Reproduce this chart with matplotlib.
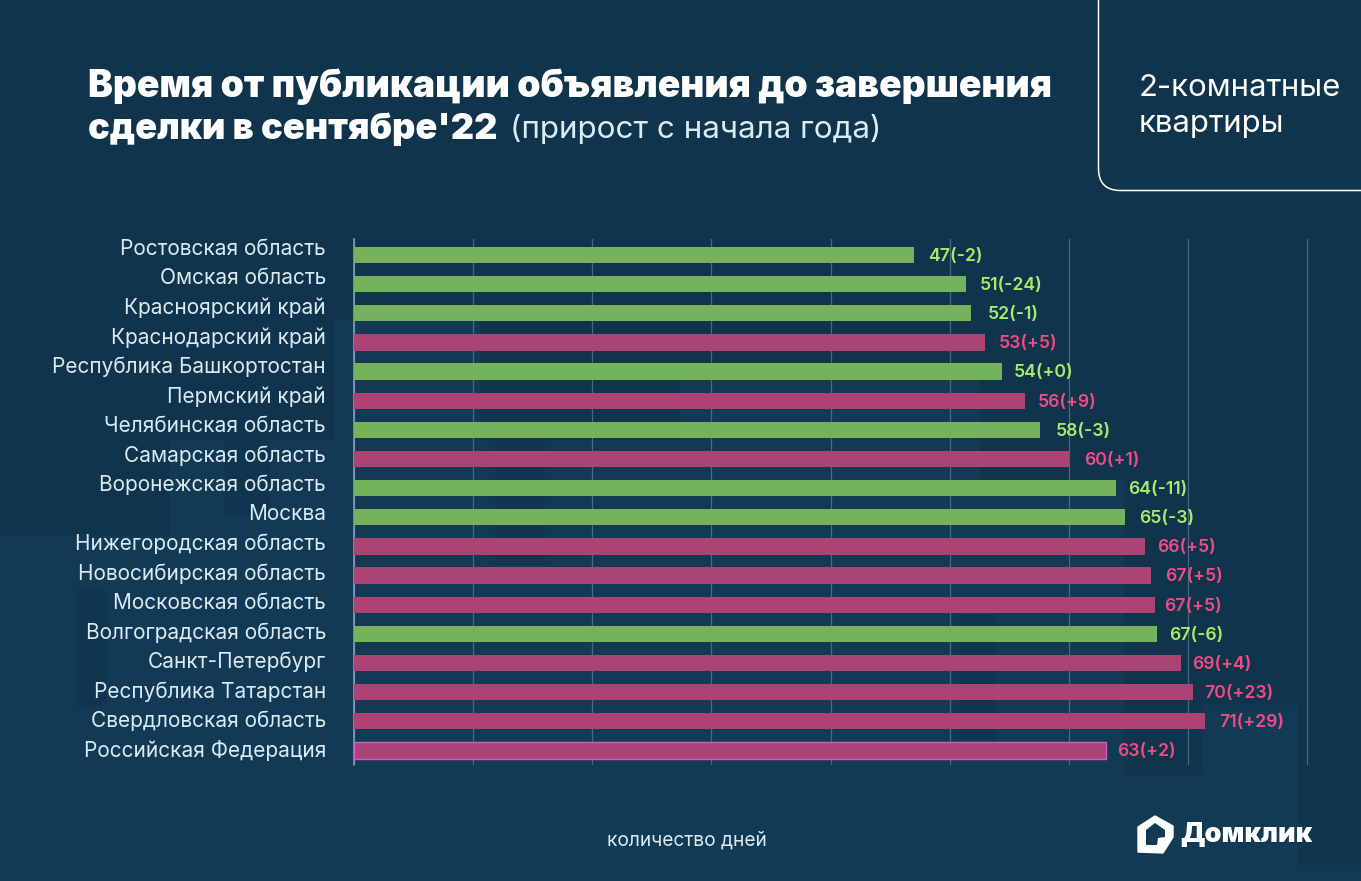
import matplotlib
matplotlib.use('Agg')
import matplotlib.pyplot as plt
from matplotlib.patches import Rectangle, Polygon, PathPatch
from matplotlib.path import Path

W, H = 1361, 881

# data
regions = ['Ростовская область', 'Омская область', 'Красноярский край', 'Краснодарский край',
           'Республика Башкортостан', 'Пермский край', 'Челябинская область', 'Самарская область',
           'Воронежская область', 'Москва', 'Нижегородская область', 'Новосибирская область',
           'Московская область', 'Волгоградская область', 'Санкт-Петербург', 'Республика Татарстан',
           'Свердловская область', 'Российская Федерация']
days = [47.0, 51.4, 51.8, 53.0, 54.4, 56.3, 57.6, 60.0, 64.0, 64.7, 66.4, 66.9, 67.2, 67.4, 69.4, 70.4, 71.4, 63.1]
shown = [47, 51, 52, 53, 54, 56, 58, 60, 64, 65, 66, 67, 67, 67, 69, 70, 71, 63]
growth = [-2, -24, -1, 5, 0, 9, -3, 1, -11, -3, 5, 5, 5, -6, 4, 23, 29, 2]
ticks = [0, 10, 20, 30, 40, 50, 60, 70, 80]

# gap between bar end and its label, px (uneven in the original)
label_gap = [14, 13, 17, 13, 12, 13, 16, 15, 12, 14, 12, 14, 10, 12, 11, 12, 15, 11]

BG = '#0f344c'
BG_LIGHT = '#133a54'
GREEN = '#74b25b'
PINK = '#ab4375'
GREEN_TXT = '#a6ec6c'
PINK_TXT = '#ef4c86'
WHITE = '#ffffff'
LABEL = '#d8ecf5'
FONT = ['Inter', 'DejaVu Sans']

fig = plt.figure(figsize=(W / 100, H / 100), dpi=100, facecolor=BG)

# background layer in pixel coordinates
bg = fig.add_axes([0, 0, 1, 1])
bg.set_xlim(0, W)
bg.set_ylim(H, 0)
bg.axis('off')

# faint lighter blocks of the backdrop
for x, y, w, h in [(0, 535, 1124, 346), (1124, 775, 174, 106), (1203, 705, 95, 70), (1298, 865, 63, 16),
                   (335, 320, 145, 215), (170, 440, 700, 100), (680, 380, 300, 160), (860, 480, 264, 100)]:
    bg.add_patch(Rectangle((x, y), w, h, fc=BG_LIGHT, ec='none'))
# and a few darker ones
for x, y, w, h in [(76, 590, 31, 116), (495, 400, 50, 165), (959, 615, 36, 125), (225, 400, 45, 115)]:
    bg.add_patch(Rectangle((x, y), w, h, fc=BG, ec='none', alpha=0.7))

# rounded frame top right
r = 22
frame = Path([(1098.5, 0), (1098.5, 190.5 - r), (1098.5, 190.5), (1098.5 + r, 190.5), (W, 190.5)],
             [Path.MOVETO, Path.LINETO, Path.CURVE3, Path.CURVE3, Path.LINETO])
bg.add_patch(PathPatch(frame, fc='none', ec=WHITE, lw=1.1))

# titles
bg.text(88, 87, 'Время от публикации объявления до завершения', fontsize=26.8, fontweight='black',
        color=WHITE, family=FONT, va='center', ha='left')
bg.text(88, 129, "сделки в сентябре'22", fontsize=26, fontweight='black',
        color=WHITE, family=FONT, va='center', ha='left')
bg.text(510, 129, '(прирост с начала года)', fontsize=22.6, color=LABEL, family=FONT, va='center', ha='left')
bg.text(1139, 88, '2-комнатные', fontsize=22.4, color=WHITE, family=FONT, va='center', ha='left')
bg.text(1139, 124, 'квартиры', fontsize=22.4, color=WHITE, family=FONT, va='center', ha='left')
bg.text(687, 840, 'количество дней', fontsize=13.8, color=LABEL, family=FONT, va='center', ha='center')

# logo
house = [(1138, 827), (1155, 816), (1173, 826), (1173, 837), (1163, 853), (1138, 852)]
hole = [(1146, 830), (1155, 823), (1165, 830), (1165, 837), (1158, 838), (1157, 845), (1146, 845)]
bg.add_patch(Polygon(house, fc=WHITE, ec=WHITE, lw=1, joinstyle='round'))
bg.add_patch(Polygon(hole, fc=BG_LIGHT, ec='none'))
bg.text(1180, 835, 'Домклик', fontsize=19.4, fontweight='black', color=WHITE, family=FONT, va='center', ha='left')

# category labels sit a little above their bars at the top of the list
for i, name in enumerate(regions):
    bg.text(326, 249 + i * 29.5, name, fontsize=15, color=LABEL, family=FONT, va='center', ha='right')

# chart
ax = fig.add_axes([354 / W, 1 - 765 / H, (1310 - 354) / W, (765 - 239) / H])
ax.patch.set_alpha(0)
ax.set_xlim(0, 80 * (1310 - 354) / (1307 - 354))
positions = list(range(len(regions)))
ax.set_ylim(17.5, -0.549)

colors = [GREEN if g <= 0 else PINK for g in growth]
edges = ['none'] * (len(regions) - 1) + ['#d45ac8']
ax.barh(positions, days, height=0.56, color=colors, edgecolor=edges, linewidth=1.0, zorder=3)

ax.set_xticks(ticks)
ax.tick_params(axis='x', length=0, labelbottom=False)
ax.set_yticks([])
ax.grid(axis='x', color='#5f7f92', lw=0.9, alpha=0.7, zorder=1)
for s in ['top', 'right', 'bottom']:
    ax.spines[s].set_visible(False)
ax.spines['left'].set_color('#8fa6b3')
ax.spines['left'].set_linewidth(1.1)

for i, (d, v, g, gap) in enumerate(zip(days, shown, growth, label_gap)):
    sign = '+' if g >= 0 else ''
    ax.annotate(f'{v}({sign}{g})', (d, i), xytext=(gap * 0.72, -1), textcoords='offset points', va='center', ha='left',
                fontsize=12.7, fontweight='semibold', family=FONT,
                color=GREEN_TXT if g <= 0 else PINK_TXT)

fig.savefig('out.png', dpi=100, facecolor=BG)
